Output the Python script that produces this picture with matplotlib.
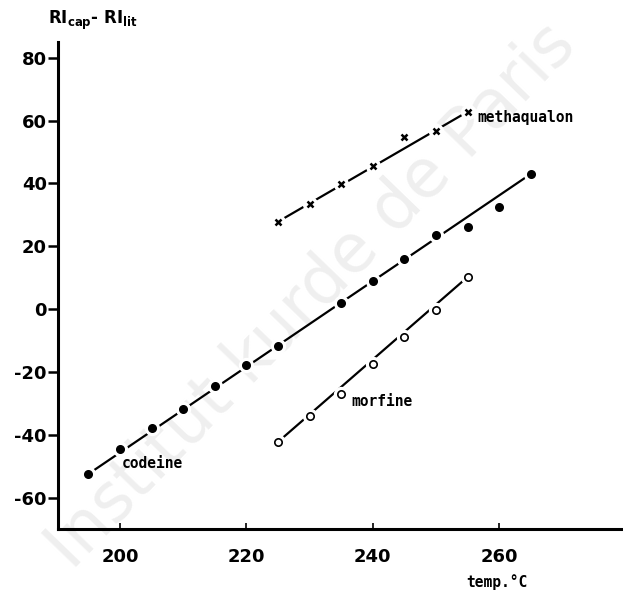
import matplotlib
matplotlib.use("Agg")
import matplotlib.pyplot as plt
import numpy as np

plt.rcParams["axes.unicode_minus"] = False
plt.rcParams["font.family"] = ["DejaVu Sans"]

# 读图得到的数值
codeine_temp = [195, 200, 205, 210, 215, 220, 225, 235, 240, 245, 250, 255, 260, 265]
codeine_diff = [-52.5, -44.5, -37.8, -31.8, -24.5, -17.8, -11.8, 1.9, 8.9, 16.1, 23.5, 26.2, 32.5, 43.0]

metha_temp = [225, 230, 235, 240, 245, 250, 255]
metha_diff = [27.8, 33.5, 39.7, 45.4, 54.7, 56.7, 62.8]

morfine_temp = [225, 230, 235, 240, 245, 250, 255]
morfine_diff = [-42.3, -34.0, -27.0, -17.5, -8.9, -0.3, 10.2]

xticks = [200, 220, 240, 260]
yticks = [-60, -40, -20, 0, 20, 40, 60, 80]

fig = plt.figure(figsize=(6.23, 5.92), dpi=100)
ax = fig.add_axes([0.0931, 0.1064, 0.9069, 0.8226])

# 水印，放在数据下面
ax.text(0.50, 0.50, "Institut kurde de Paris", rotation=46, fontsize=48,
        color="#efefef", ha="center", va="center", zorder=0,
        transform=fig.transFigure, clip_on=False)

series = [
    (codeine_temp, codeine_diff, "o", "black", "black"),
    (metha_temp, metha_diff, "x", "black", "black"),
    (morfine_temp, morfine_diff, "o", "white", "black"),
]
for xs, ys, mk, fc, ec in series:
    # 直线连首尾两点，模仿原图手绘拟合线
    ax.plot([xs[0], xs[-1]], [ys[0], ys[-1]], color="black", lw=1.6, zorder=2)
    ax.plot(xs, ys, ls="none", marker="o", ms=10, mfc="white", mec="white", zorder=3)
    if mk == "x":
        ax.plot(xs, ys, ls="none", marker="x", ms=5, mew=1.8, color="black", zorder=4)
    else:
        ax.plot(xs, ys, ls="none", marker="o", ms=5.3, mfc=fc, mec=ec, mew=1.2, zorder=4)

lab_font = dict(family="DejaVu Sans Mono", fontweight="bold", fontsize=10.5)
ax.text(256.6, 61, "methaqualon", va="center", ha="left", **lab_font)
ax.text(200.3, -49, "codeine", va="center", ha="left", **lab_font)
ax.text(236.6, -29.3, "morfine", va="center", ha="left", **lab_font)

ax.set_xlim(190.2, 279.6)
ax.set_ylim(-70, 85)
ax.set_xticks(xticks)
ax.set_yticks(yticks)
ax.tick_params(axis="x", direction="in", length=4, width=1.2, pad=14, labelsize=13)
ax.tick_params(axis="y", direction="out", length=7, width=1.8, pad=1, labelsize=13)
for lbl in ax.get_xticklabels() + ax.get_yticklabels():
    lbl.set_fontweight("bold")

for side in ["top", "right"]:
    ax.spines[side].set_visible(False)
ax.spines["left"].set_linewidth(2.2)
ax.spines["bottom"].set_linewidth(2.2)
ax.patch.set_alpha(0)

fig.text(48 / 623, 1 - 20 / 592, r"RI$_{\mathbf{cap}}$- RI$_{\mathbf{lit}}$",
         fontsize=12, fontweight="bold", ha="left", va="center")
fig.text(466 / 623, 1 - 582 / 592, "temp.°C", family="DejaVu Sans Mono",
         fontsize=10.5, fontweight="bold", ha="left", va="center")

plt.savefig("out.png", dpi=100)
